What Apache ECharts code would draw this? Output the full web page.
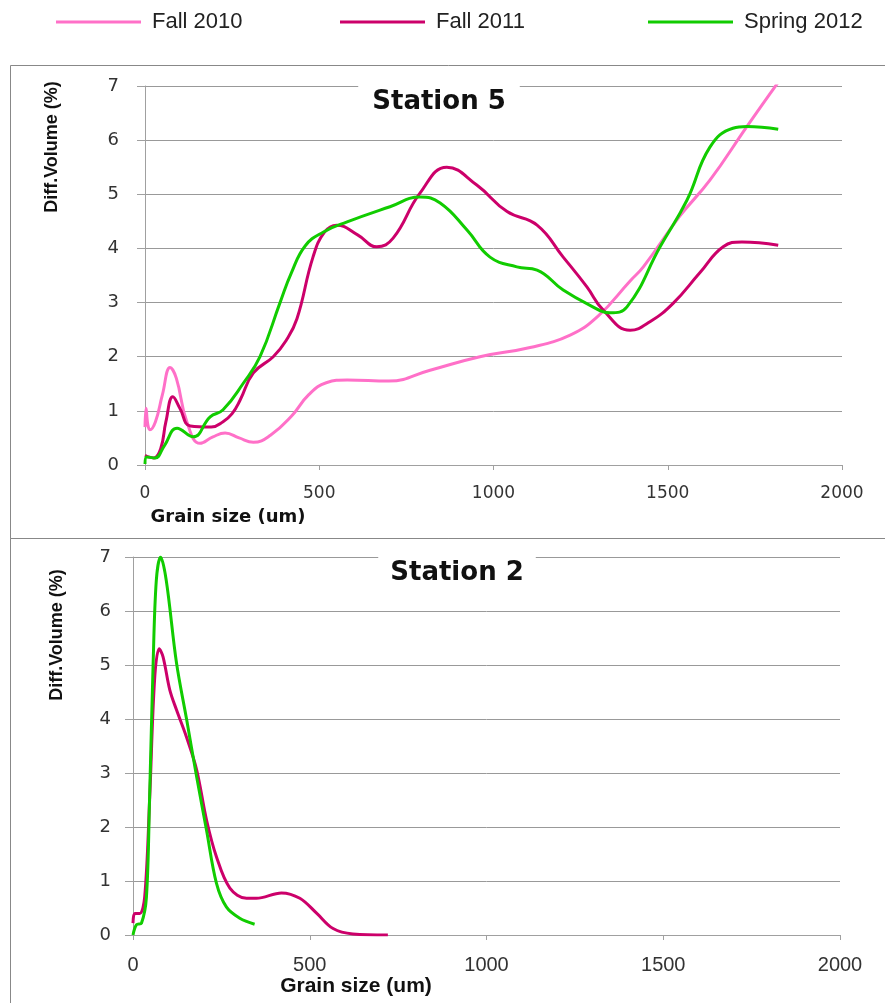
<!DOCTYPE html>
<html>
<head>
<meta charset="utf-8">
<script src="https://cdn.jsdelivr.net/npm/echarts@6/dist/echarts.min.js"></script>
<style>
  html, body { margin: 0; padding: 0; background: #fff; }
  #main { width: 885px; height: 1003px; }
</style>
</head>
<body>
<div id="main"></div>
<script>
// grain size (um), diff. volume (%)
var station5Fall2010 = [[0,0.7],[3,1.05],[8,0.75],[14,0.65],[30,0.8],[50,1.3],[72,1.8],[90,1.6],[120,0.8],[158,0.4],[195,0.52],[230,0.59],[270,0.5],[311,0.42],[360,0.55],[420,0.9],[470,1.3],[520,1.52],[580,1.57],[700,1.55],[818,1.75],[961,2.0],[1105,2.17],[1220,2.4],[1300,2.75],[1392,3.4],[1430,3.66],[1535,4.6],[1621,5.26],[1727,6.25],[1817,7.07]];
var station5Fall2011 = [[0,0.18],[10,0.15],[25,0.13],[45,0.3],[60,0.8],[80,1.26],[100,1.05],[130,0.72],[190,0.7],[224,0.8],[250,0.95],[273,1.2],[311,1.7],[368,2.0],[405,2.3],[436,2.7],[482,3.84],[515,4.3],[550,4.43],[610,4.25],[665,4.03],[712,4.19],[789,5.02],[866,5.5],[952,5.17],[1039,4.68],[1125,4.43],[1200,3.84],[1268,3.29],[1315,2.86],[1392,2.49],[1450,2.65],[1516,2.99],[1592,3.55],[1659,4.03],[1713,4.12],[1817,4.06]];
var station5Spring2012 = [[0,0.02],[5,0.15],[29,0.13],[55,0.35],[92,0.68],[138,0.52],[187,0.89],[224,1.02],[282,1.51],[330,2.0],[387,2.99],[420,3.55],[460,4.05],[511,4.3],[580,4.49],[703,4.77],[789,4.95],[847,4.84],[924,4.34],[990,3.84],[1067,3.66],[1125,3.6],[1200,3.23],[1277,2.95],[1334,2.81],[1383,2.92],[1478,4.03],[1555,4.89],[1621,5.87],[1687,6.22],[1727,6.25],[1817,6.2]];

var station2Fall2011 = [[0,0.22],[5,0.4],[19,0.4],[33,0.7],[47,2.5],[61,4.72],[74,5.3],[85,5.15],[104,4.54],[123,4.17],[151,3.67],[180,3.06],[208,2.13],[236,1.45],[274,0.87],[321,0.68],[349,0.68],[420,0.78],[472,0.68],[520,0.4],[566,0.12],[622,0.02],[721,0.0]];
var station2Spring2012 = [[0,0],[10,0.19],[24,0.22],[38,0.7],[47,2.56],[57,5.04],[66,6.57],[78,7.0],[94,6.57],[123,5.04],[152,3.98],[180,2.93],[208,1.94],[236,0.96],[264,0.52],[302,0.31],[344,0.2]];

var seriesNames = ['Fall 2010', 'Fall 2011', 'Spring 2012'];
var seriesColors = ['#ff70c8', '#cc006a', '#11cc00'];

var myChart = echarts.init(document.getElementById('main'));

function yAxisFor(gridIndex, labelFont, labelSize, margin) {
    return {
        type: 'value', gridIndex: gridIndex,
        min: 0, max: 7, interval: 1,
        axisLine: { show: true, lineStyle: { color: '#a0a0a0', width: 1 } },
        axisTick: { show: true, length: 8, lineStyle: { color: '#a0a0a0' } },
        axisLabel: { color: '#333', fontFamily: labelFont, fontSize: labelSize, margin: margin },
        splitLine: { show: true, lineStyle: { color: '#999', width: 1 } }
    };
}
function xAxisFor(gridIndex, labelFont, labelSize) {
    return {
        type: 'value', gridIndex: gridIndex,
        min: 0, max: 2000, interval: 500,
        axisLine: { show: true, lineStyle: { color: '#a0a0a0', width: 1 } },
        axisTick: { show: true, length: 5, lineStyle: { color: '#a0a0a0' } },
        axisLabel: {
            color: '#333', fontFamily: labelFont, fontSize: labelSize, margin: 20,
            formatter: function (v) { return String(v); }
        },
        splitLine: { show: false }
    };
}
function line(name, idx, data, axisIndex, smooth) {
    return {
        name: name, type: 'line', data: data,
        xAxisIndex: axisIndex, yAxisIndex: axisIndex,
        smooth: smooth, showSymbol: false, symbol: 'none',
        lineStyle: { color: seriesColors[idx], width: 3 },
        itemStyle: { color: seriesColors[idx] }
    };
}
function legendItem(i, left) {
    return {
        data: [seriesNames[i]], left: left, top: 6,
        icon: 'rect', itemWidth: 85, itemHeight: 3, itemGap: 0,
        textStyle: { fontFamily: 'Liberation Sans', fontSize: 22, color: '#222', padding: [0, 0, 0, 6] }
    };
}

myChart.setOption({
    animation: false,
    backgroundColor: '#fff',
    legend: [legendItem(0, 51), legendItem(1, 335), legendItem(2, 643)],
    grid: [
        { left: 145, right: 43, top: 86, height: 379 },
        { left: 133, right: 45, top: 557, height: 378 }
    ],
    xAxis: [xAxisFor(0, 'DejaVu Sans', 17), xAxisFor(1, 'Liberation Sans', 20)],
    yAxis: [yAxisFor(0, 'DejaVu Sans', 18, 26), yAxisFor(1, 'DejaVu Sans', 18, 22)],
    series: [
        line('Fall 2010', 0, station5Fall2010, 0, 0.45),
        line('Fall 2011', 1, station5Fall2011, 0, 0.45),
        line('Spring 2012', 2, station5Spring2012, 0, 0.45),
        line('Fall 2011', 1, station2Fall2011, 1, 0.35),
        line('Spring 2012', 2, station2Spring2012, 1, 0.35)
    ],
    graphic: [
        // panel frames
        { type: 'rect', z: -1, shape: { x: 10.5, y: 65.5, width: 900, height: 473 }, style: { fill: 'none', stroke: '#888', lineWidth: 1 } },
        { type: 'rect', z: -1, shape: { x: 10.5, y: 538.5, width: 900, height: 500 }, style: { fill: 'none', stroke: '#888', lineWidth: 1 } },
        // chart titles
        { type: 'text', z: 100, x: 439, y: 102, style: { text: 'Station 5', font: 'bold 26px "DejaVu Sans"', fill: '#111', align: 'center', verticalAlign: 'middle', backgroundColor: '#fff', padding: [8, 14] } },
        { type: 'text', z: 100, x: 457, y: 573, style: { text: 'Station 2', font: 'bold 26px "DejaVu Sans"', fill: '#111', align: 'center', verticalAlign: 'middle', backgroundColor: '#fff', padding: [8, 12] } },
        // axis names
        { type: 'text', z: 100, x: 228, y: 517, style: { text: 'Grain size (um)', font: 'bold 18px "DejaVu Sans"', fill: '#111', align: 'center', verticalAlign: 'middle' } },
        { type: 'text', z: 100, x: 356, y: 986, style: { text: 'Grain size (um)', font: 'bold 21px "Liberation Sans"', fill: '#111', align: 'center', verticalAlign: 'middle' } },
        { type: 'text', z: 100, x: 52, y: 147, rotation: Math.PI / 2, style: { text: 'Diff.Volume (%)', font: 'bold 18px "Liberation Sans"', fill: '#111', align: 'center', verticalAlign: 'middle' } },
        { type: 'text', z: 100, x: 57, y: 635, rotation: Math.PI / 2, style: { text: 'Diff.Volume (%)', font: 'bold 18px "Liberation Sans"', fill: '#111', align: 'center', verticalAlign: 'middle' } }
    ]
});
</script>
</body>
</html>
